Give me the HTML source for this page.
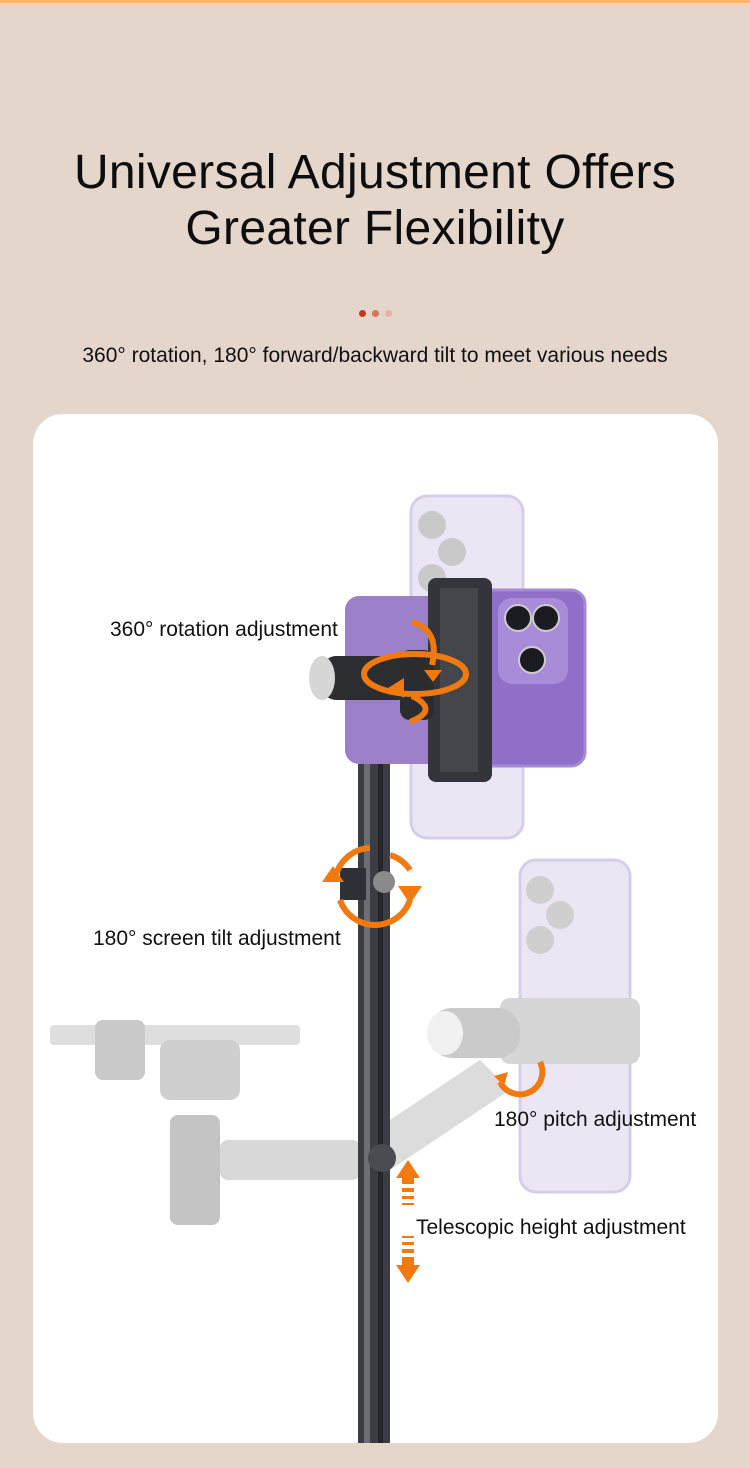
<!DOCTYPE html>
<html><head><meta charset="utf-8"><style>
html,body{margin:0;padding:0}
body{width:750px;height:1468px;background:#e5d6cb;position:relative;overflow:hidden;font-family:"Liberation Sans","DejaVu Sans",sans-serif;color:#111}
.topbar{position:absolute;left:0;top:0;width:750px;height:3px;background:#f3b772}
h1{position:absolute;left:0;top:145px;width:750px;margin:0;text-align:center;font-weight:normal;font-size:48px;line-height:56px;color:#0d0d0d;letter-spacing:0.3px}
.dot{position:absolute;top:310px;width:7px;height:7px;border-radius:50%}
.sub{position:absolute;left:0;top:344px;width:750px;text-align:center;font-size:21px}
.card{position:absolute;left:33px;top:414px;width:685px;height:1029px;background:#fff;border-radius:30px;overflow:hidden}
.lbl{position:absolute;font-size:21px;color:#111;white-space:nowrap}
</style></head><body>
<div class="topbar"></div>
<h1>Universal Adjustment Offers<br>Greater Flexibility</h1>
<div class="dot" style="left:359px;background:#c23a1c"></div>
<div class="dot" style="left:372px;background:#d8735c"></div>
<div class="dot" style="left:385px;background:#e8b0a6"></div>
<div class="sub">360° rotation, 180° forward/backward tilt to meet various needs</div>
<div class="card">
<svg width="685" height="1029" viewBox="33 414 685 1029" style="position:absolute;left:0;top:0">
 <rect x="411" y="496" width="112" height="342" rx="16" fill="#ece6f4" stroke="#d8cde8" stroke-width="3"/>
 <circle cx="432" cy="525" r="14" fill="#c9c9c9"/><circle cx="452" cy="552" r="14" fill="#c9c9c9"/><circle cx="432" cy="578" r="14" fill="#c9c9c9"/>
 <rect x="520" y="860" width="110" height="332" rx="16" fill="#ece6f4" stroke="#d8cde8" stroke-width="3"/>
 <circle cx="540" cy="890" r="14" fill="#cfcfcf"/><circle cx="560" cy="915" r="14" fill="#cfcfcf"/><circle cx="540" cy="940" r="14" fill="#cfcfcf"/>
 <rect x="500" y="998" width="140" height="66" rx="10" fill="#d6d6d6"/>
 <rect x="430" y="1008" width="90" height="50" rx="22" fill="#cacaca"/>
 <ellipse cx="445" cy="1033" rx="18" ry="22" fill="#f1f1f1"/>
 <polygon points="360,1140 480,1060 510,1090 390,1170" fill="#dcdcdc"/>
 <rect x="50" y="1025" width="250" height="20" rx="4" fill="#dedede"/>
 <rect x="95" y="1020" width="50" height="60" rx="8" fill="#c9c9c9"/>
 <rect x="160" y="1040" width="80" height="60" rx="10" fill="#cfcfcf"/>
 <rect x="170" y="1115" width="50" height="110" rx="8" fill="#c4c4c4"/>
 <rect x="220" y="1140" width="140" height="40" rx="8" fill="#d8d8d8"/>
 <rect x="358" y="720" width="32" height="730" fill="#3b3d42"/>
 <rect x="364" y="720" width="6" height="730" fill="#6b6e75"/>
 <rect x="378" y="720" width="5" height="730" fill="#23252a"/>
 <rect x="352" y="690" width="40" height="60" rx="4" fill="#2e3035"/>
 <circle cx="380" cy="722" r="7" fill="#c8c8c8"/>
 <circle cx="382" cy="1158" r="14" fill="#4a4c52"/>
 <rect x="340" y="868" width="26" height="32" fill="#2e3035"/>
 <circle cx="384" cy="882" r="11" fill="#8a8a8a"/>
 <rect x="345" y="596" width="240" height="168" rx="14" fill="#9b7fc9"/>
 <rect x="478" y="590" width="107" height="176" rx="14" fill="#8f6fc7" stroke="#a68ad6" stroke-width="3"/>
 <rect x="498" y="598" width="70" height="86" rx="14" fill="#a98cd9"/>
 <circle cx="518" cy="618" r="13" fill="#1b1b22" stroke="#ccc" stroke-width="2"/>
 <circle cx="546" cy="618" r="13" fill="#1b1b22" stroke="#ccc" stroke-width="2"/>
 <circle cx="532" cy="660" r="13" fill="#1b1b22" stroke="#ccc" stroke-width="2"/>
 <rect x="428" y="578" width="64" height="204" rx="8" fill="#33353a"/>
 <rect x="440" y="588" width="38" height="184" fill="#44464c"/>
 <rect x="322" y="656" width="90" height="44" rx="14" fill="#2b2d31"/>
 <ellipse cx="322" cy="678" rx="13" ry="22" fill="#d6d6d6"/>
 <rect x="400" y="650" width="34" height="70" rx="10" fill="#2a2c30"/>
 <g fill="none" stroke="#f07a10" stroke-width="6">
  <ellipse cx="415" cy="674" rx="51" ry="20"/>
  <path d="M412 622 Q440 630 432 665"/>
  <path d="M412 696 Q440 710 410 722"/>
  <path d="M390 855 A37 37 0 0 1 410 870"/>
  <path d="M410 900 A37 37 0 0 1 340 900"/>
  <path d="M335 880 A37 37 0 0 1 370 848"/>
  <path d="M500 1082 A22 22 0 0 0 540 1062"/>
 </g>
 <g fill="#f07a10">
  <polygon points="424,670 442,670 433,682"/>
  <polygon points="388,688 404,678 404,698"/>
  <polygon points="322,882 344,882 333,866"/>
  <polygon points="398,886 422,886 410,904"/>
  <polygon points="494,1076 508,1072 504,1086"/>
  <polygon points="396,1178 408,1160 420,1178"/>
  <rect x="402" y="1178" width="12" height="6"/>
  <rect x="402" y="1188" width="12" height="4"/><rect x="402" y="1196" width="12" height="3"/><rect x="402" y="1203" width="12" height="2"/>
  <rect x="402" y="1236" width="12" height="2"/><rect x="402" y="1242" width="12" height="3"/><rect x="402" y="1249" width="12" height="4"/>
  <rect x="402" y="1257" width="12" height="8"/>
  <polygon points="396,1265 420,1265 408,1283"/>
 </g>
</svg>
<div class="lbl" style="left:77px;top:204px">360° rotation adjustment</div>
<div class="lbl" style="left:60px;top:513px">180° screen tilt adjustment</div>
<div class="lbl" style="left:461px;top:694px">180° pitch adjustment</div>
<div class="lbl" style="left:383px;top:802px">Telescopic height adjustment</div>
</div>
</body></html>
